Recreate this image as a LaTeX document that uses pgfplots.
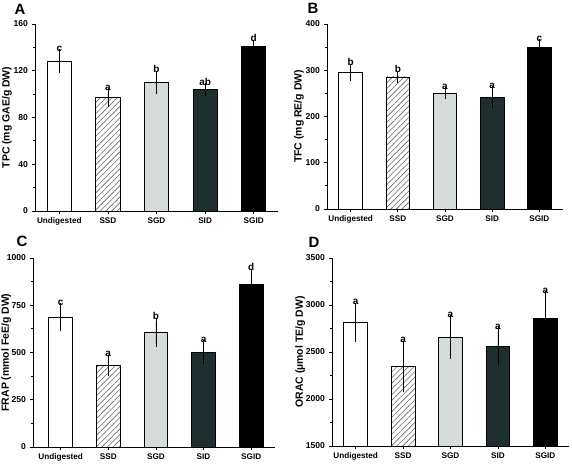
\documentclass[border=0pt]{standalone}
\usepackage{pgfplots}
\pgfplotsset{compat=1.18}
\usepackage{fontspec}
\setmainfont{Liberation Sans}
\usetikzlibrary{patterns.meta}
\definecolor{sgd}{RGB}{214,220,219}
\definecolor{sid}{RGB}{31,47,47}
\pgfplotsset{
  panel/.style={
    scale only axis,
    xmin=-0.5, xmax=4.5,
    axis x line*=bottom, axis y line*=left,
    axis line style={line width=0.8pt,-},
    xtick={0,1,2,3,4},
    xticklabels={Undigested,SSD,SGD,SID,SGID},
    tick align=outside,
    major tick length=3bp, minor tick length=2bp,
    tick style={black, line width=0.8pt},
    minor y tick num=1,
    xticklabel style={font=\bfseries\fontsize{8.2}{9}\selectfont},
    yticklabel style={font=\bfseries\fontsize{8.6}{9}\selectfont, xshift=-0.5bp},
    /pgf/number format/assume math mode=true,
    /pgf/number format/1000 sep={},
    ylabel style={font=\bfseries\fontsize{10.5}{12}\selectfont},
    ylabel shift=-5bp,
    clip=false,
  },
  barbase/.style={ybar, bar width=0.5, bar shift=0pt, draw=black, line width=0.8pt,
    error bars/.cd, y dir=both, y explicit,
    error bar style={black, line width=0.7pt},
    error mark options={black, mark size=4bp, line width=0.7pt}},
  b0/.style={fill=white, barbase},
  b1/.style={pattern={Lines[angle=45,distance=4bp,line width=0.6bp]}, pattern color=gray!80!black, barbase},
  b2/.style={fill=sgd, barbase},
  b3/.style={fill=sid, barbase},
  b4/.style={fill=black, barbase},
  sig/.style={draw=none, mark=none, nodes near coords, point meta=explicit symbolic,
    nodes near coords style={font=\bfseries\fontsize{10}{11}\selectfont, anchor=south, inner sep=1.5bp}},
}
\begin{document}
\begin{tikzpicture}
\useasboundingbox (0,0) rectangle (572bp,-464bp);
% Panel A
\begin{axis}[panel, at={(35bp,-211bp)}, anchor=south west, width=243bp, height=187bp,
  ymin=0, ymax=160, ytick={0,40,80,120,160}, ylabel={TPC (mg GAE/g DW)}]
\addplot[b0] coordinates {(0,128.4) +- (0,6.7)};
\addplot[b1] coordinates {(1,96.8) +- (0,4.8)};
\addplot[b2] coordinates {(2,110.2) +- (0,6.4)};
\addplot[b3] coordinates {(3,103.9) +- (0,2.0)};
\addplot[b4] coordinates {(4,141.2) +- (0,2.0)};
\addplot[sig] table[meta=l] {
x y l
0 135.1 c
1 101.6 a
2 116.6 b
3 105.9 ab
4 143.2 d
};
\end{axis}
\node[font=\bfseries\fontsize{15}{16}\selectfont] at (20bp,-9bp) {A};
% Panel B
\begin{axis}[panel, at={(327bp,-209bp)}, anchor=south west, width=236bp, height=185bp,
  ymin=0, ymax=400, ytick={0,100,200,300,400}, ylabel={TFC (mg RE/g DW)}]
\addplot[b0] coordinates {(0,295.7) +- (0,10)};
\addplot[b1] coordinates {(1,285.6) +- (0,5)};
\addplot[b2] coordinates {(2,250.4) +- (0,3.8)};
\addplot[b3] coordinates {(3,241.7) +- (0,15)};
\addplot[b4] coordinates {(4,348.9) +- (0,9.4)};
\addplot[sig] table[meta=l] {
x y l
0 305.7 b
1 290.6 b
2 254.2 a
3 256.7 a
4 358.3 c
};
\end{axis}
\node[font=\bfseries\fontsize{15}{16}\selectfont] at (313bp,-8bp) {B};
% Panel C
\begin{axis}[panel, at={(33bp,-447bp)}, anchor=south west, width=242bp, height=189bp,
  xmin=-0.58, ymin=0, ymax=1000, ytick={0,250,500,750,1000}, ylabel={FRAP (mmol FeE/g DW)},
  ylabel shift=-11bp]
\addplot[b0] coordinates {(0,686.6) +- (0,53)};
\addplot[b1] coordinates {(1,433) +- (0,35)};
\addplot[b2] coordinates {(2,607) +- (0,56)};
\addplot[b3] coordinates {(3,502) +- (0,41)};
\addplot[b4] coordinates {(4,861) +- (0,61)};
\addplot[sig] table[meta=l] {
x y l
0 739.6 c
1 468 a
2 663 b
3 543 a
4 922 d
};
\end{axis}
\node[font=\bfseries\fontsize{15}{16}\selectfont] at (22bp,-241bp) {C};
% Panel D
\begin{axis}[panel, at={(332bp,-446bp)}, anchor=south west, width=237bp, height=188bp,
  ymin=1500, ymax=3500, ytick={1500,2000,2500,3000,3500}, ylabel={ORAC (\textmu mol TE/g DW)},
  ylabel shift=-6bp]
\addplot[b0] coordinates {(0,2815) +- (0,167)};
\addplot[b1] coordinates {(1,2345) +- (0,233)};
\addplot[b2] coordinates {(2,2657) +- (0,192)};
\addplot[b3] coordinates {(3,2560) +- (0,160)};
\addplot[b4] coordinates {(4,2858) +- (0,248)};
\addplot[sig] table[meta=l] {
x y l
0 2982 a
1 2578 a
2 2849 a
3 2720 a
4 3106 a
};
\end{axis}
\node[font=\bfseries\fontsize{15}{16}\selectfont] at (314bp,-242bp) {D};
\end{tikzpicture}
\end{document}
